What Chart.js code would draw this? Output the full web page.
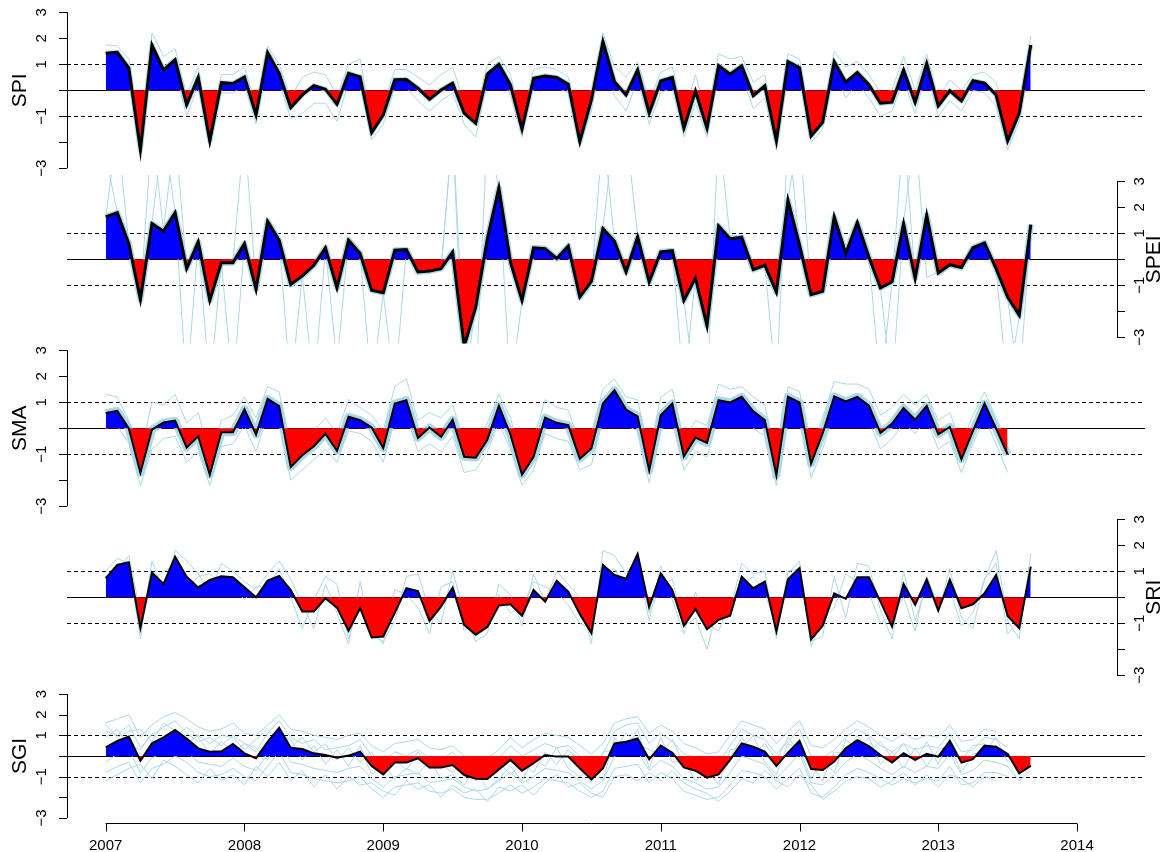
<!DOCTYPE html>
<html>
<head>
<meta charset="utf-8">
<script src="https://cdn.jsdelivr.net/npm/chart.js@4.4.0/dist/chart.umd.min.js"></script>
<style>
  html, body { margin: 0; padding: 0; background: #fff; }
  #wrap { position: relative; width: 1167px; height: 852px; }
  #wrap canvas { position: absolute; left: 0; top: 0; }
</style>
</head>
<body>
<div id="wrap">
  <canvas id="spi" width="1167" height="852"></canvas>
  <canvas id="spei" width="1167" height="852"></canvas>
  <canvas id="sma" width="1167" height="852"></canvas>
  <canvas id="sri" width="1167" height="852"></canvas>
  <canvas id="sgi" width="1167" height="852"></canvas>
</div>
<script>
// Monthly series, Jan 2007 onwards
const startYear = 2007;
const yearTicks = [2007, 2008, 2009, 2010, 2011, 2012, 2013, 2014];
const indexTicks = [-3, -2, -1, 0, 1, 2, 3];
const labelledTicks = [3, 2, 1, -1, -3];

const spiValues = [
    1.42, 1.46, 0.85, -2.30, 1.74, 0.78, 1.17, -0.56, 0.50, -1.95,
    0.29, 0.26, 0.51, -0.95, 1.45, 0.65, -0.67, -0.18, 0.18, 0.04,
    -0.54, 0.65, 0.51, -1.63, -0.95, 0.40, 0.41, 0.08, -0.35, 0.01,
    0.27, -0.88, -1.27, 0.62, 1.00, 0.21, -1.50, 0.46, 0.55, 0.49,
    0.23, -1.97, -0.37, 1.87, 0.33, -0.18, 0.78, -0.88, 0.36, 0.49,
    -1.46, -0.03, -1.46, 0.95, 0.62, 0.94, -0.21, 0.17, -1.95, 1.10,
    0.87, -1.76, -1.23, 1.10, 0.31, 0.68, 0.21, -0.50, -0.46, 0.78,
    -0.47, 1.03, -0.60, -0.02, -0.41, 0.37, 0.27, -0.18, -1.95, -0.88,
    1.74
];
const spiUpper = [
    1.75, 1.7, 1.2, -1.9, 2.2, 1.3, 1.6, -0.2, 0.9, -1.6,
    0.6, 0.6, 0.9, -0.6, 1.7, 1.0, -0.3, 0.5, 0.7, 0.6,
    -0.2, 1.0, 1.2, -1.3, -0.6, 0.8, 0.8, 0.5, 0.2, 0.6,
    0.9, -0.5, -0.9, 1.0, 1.3, 0.6, -1.1, 0.8, 0.9, 0.8,
    0.5, -1.6, 0.0, 2.2, 0.9, 0.5, 1.1, -0.4, 0.7, 0.9,
    -1.0, 0.6, -1.0, 1.4, 1.2, 1.3, 0.3, 0.6, -1.6, 1.4,
    1.2, -1.4, -0.9, 1.5, 0.9, 1.1, 0.6, -0.1, 0.0, 1.3,
    0.0, 1.4, -0.3, 0.4, 0.0, 0.6, 0.7, 0.3, -1.6, -0.5,
    2.1
];
const spiLower = [
    1.2, 1.2, 0.5, -2.5, 1.4, 0.5, 0.8, -1.0, 0.2, -2.2,
    -0.1, -0.1, 0.2, -1.3, 1.1, 0.3, -1.1, -0.9, -0.5, -0.5,
    -1.2, 0.3, 0.2, -1.9, -1.3, 0.1, 0.1, -0.4, -0.8, -0.4,
    -0.1, -1.3, -1.8, 0.3, 0.7, -0.2, -1.8, 0.1, 0.2, 0.1,
    -0.1, -2.2, -0.8, 1.5, -0.2, -0.8, 0.4, -1.3, -0.1, 0.1,
    -1.8, -0.5, -1.8, 0.6, 0.3, 0.6, -0.7, -0.3, -2.3, 0.8,
    0.5, -2.0, -1.5, 0.8, -0.3, 0.3, -0.3, -1.0, -0.8, 0.4,
    -0.9, 0.7, -1.0, -0.4, -0.8, 0.0, -0.1, -0.6, -2.3, -1.2,
    1.5
];

const speiValues = [
    1.63, 1.79, 0.60, -1.55, 1.37, 1.08, 1.79, -0.36, 0.67, -1.58,
    -0.13, -0.13, 0.60, -1.15, 1.46, 0.73, -0.97, -0.64, -0.23, 0.44,
    -1.10, 0.73, 0.22, -1.19, -1.29, 0.35, 0.37, -0.49, -0.45, -0.36,
    0.28, -3.35, -1.83, 0.79, 2.74, -0.10, -1.58, 0.44, 0.41, 0.03,
    0.51, -1.45, -0.85, 1.18, 0.69, -0.49, 0.86, -0.87, 0.28, 0.33,
    -1.58, -0.72, -2.56, 1.28, 0.79, 0.85, -0.40, -0.23, -1.26, 2.27,
    0.55, -1.36, -1.23, 1.63, 0.22, 1.41, 0.09, -1.10, -0.87, 1.37,
    -0.74, 1.69, -0.53, -0.21, -0.32, 0.44, 0.63, -0.36, -1.45, -2.15,
    1.33
];
const speiMember1 = [
    4.0, 1.8, 0.6, -1.5, 1.4, 5.0, 1.8, -5.0, 0.7, -1.6,
    -0.1, -0.1, 5.0, -1.1, 1.5, 0.7, -5.0, -0.6, -0.2, 0.4,
    -1.1, 0.7, 0.2, -5.0, -1.3, 0.3, 0.4, -0.5, -0.5, -0.4,
    5.0, -5.0, -1.8, 0.8, 2.8, -0.1, -1.6, 0.4, 0.4, 0.0,
    0.5, -1.5, -0.9, 5.0, 0.7, -0.5, 0.9, -0.9, 0.3, 0.3,
    -5.0, -0.7, -2.6, 1.3, 0.8, 0.9, -0.4, -0.2, -5.0, 5.0,
    0.5, -1.4, -1.2, 1.6, 0.2, 1.4, 0.1, -5.0, -0.9, 5.0,
    -0.7, 1.7, -0.5, -0.2, -0.3, 0.4, 0.6, -0.4, -1.5, -5.0,
    1.3
];
const speiMember2 = [
    1.6, 5.0, 0.6, -1.5, 5.0, 1.1, 5.0, -0.4, 0.7, -5.0,
    -0.1, -5.0, 0.6, -1.1, 1.5, 0.7, -1.0, -0.6, -5.0, 0.4,
    -4.0, 0.7, 0.2, -1.2, -1.3, -5.0, 0.4, -0.5, -0.5, -0.4,
    5.0, -3.4, -5.0, 5.0, 2.7, -5.0, -1.6, 0.4, 0.4, 0.0,
    0.5, -1.5, -0.9, 1.2, 5.0, 5.0, 0.9, -0.9, 0.3, 0.3,
    -1.6, -5.0, -5.0, 5.0, 0.8, 0.9, -0.4, -0.2, -1.3, 2.3,
    5.0, -1.4, -1.2, 1.6, 0.2, 1.4, 0.1, -1.1, -5.0, 1.4,
    5.0, -0.7, -0.5, -0.2, -0.3, 0.4, 0.6, -0.4, -5.0, -2.2,
    1.3
];

const smaValues = [
    0.59, 0.67, -0.01, -1.71, -0.05, 0.22, 0.29, -0.74, -0.31, -1.78,
    -0.15, -0.15, 0.73, -0.24, 1.13, 0.85, -1.49, -1.04, -0.69, -0.21,
    -0.87, 0.44, 0.31, 0.03, -0.76, 0.95, 1.08, -0.37, 0.03, -0.33,
    0.33, -1.10, -1.13, -0.44, 0.86, -0.24, -1.78, -1.10, 0.41, 0.21,
    0.12, -1.17, -0.78, 0.95, 1.46, 0.72, 0.46, -1.62, 0.50, 0.95,
    -1.08, -0.36, -0.56, 1.08, 0.99, 1.21, 0.65, 0.31, -1.81, 1.21,
    0.99, -1.36, -0.20, 1.23, 1.03, 1.21, 0.87, -0.18, 0.18, 0.78,
    0.33, 0.86, -0.23, 0.05, -1.19, -0.10, 0.95, -0.01, -1.01, null,
    null
];
const smaUpper = [
    1.3, 1.2, 0.3, -1.0, 1.0, 0.9, 1.3, 0.2, 0.6, -1.1,
    0.3, 0.5, 1.2, 0.4, 1.6, 1.4, -0.9, -0.5, -0.1, 0.4,
    -0.2, 1.1, 0.8, 0.5, -0.1, 1.6, 1.9, 0.3, 0.6, 0.4,
    0.9, -0.5, -0.6, 0.2, 1.3, 0.4, -1.2, -0.4, 1.1, 0.8,
    0.7, -0.6, -0.2, 1.5, 1.9, 1.2, 1.1, -1.0, 1.2, 1.5,
    -0.5, 0.3, 0.1, 1.7, 1.5, 1.6, 1.2, 0.9, -1.3, 1.6,
    1.4, -0.8, 0.4, 1.8, 1.7, 1.7, 1.5, 0.5, 0.8, 1.3,
    0.9, 1.3, 0.3, 0.6, -0.6, 0.5, 1.4, 0.4, -0.6, null,
    null
];
const smaLower = [
    0.0, 0.1, -0.6, -2.2, -0.8, -0.4, -0.3, -1.3, -0.9, -2.2,
    -0.7, -0.6, 0.1, -0.9, 0.5, 0.3, -2.0, -1.6, -1.2, -0.8,
    -1.3, -0.1, -0.2, -0.5, -1.3, 0.3, 0.5, -0.9, -0.6, -0.9,
    -0.3, -1.7, -1.6, -0.9, 0.2, -0.8, -2.2, -1.6, -0.2, -0.4,
    -0.5, -1.6, -1.4, 0.3, 0.9, 0.1, -0.1, -2.1, -0.1, 0.4,
    -1.6, -0.9, -1.1, 0.5, 0.4, 0.6, 0.0, -0.3, -2.2, 0.6,
    0.4, -1.9, -0.8, 0.6, 0.4, 0.6, 0.3, -0.8, -0.4, 0.2,
    -0.2, 0.3, -0.8, -0.5, -1.7, -0.6, 0.4, -0.6, -1.7, null,
    null
];

const sriValues = [
    0.73, 1.24, 1.35, -1.19, 0.95, 0.51, 1.56, 0.79, 0.38, 0.67,
    0.81, 0.77, 0.38, 0.00, 0.64, 0.82, 0.28, -0.55, -0.55, -0.04,
    -0.40, -1.29, -0.42, -1.55, -1.51, -0.60, 0.35, 0.24, -0.91, -0.36,
    0.37, -1.06, -1.44, -1.15, -0.32, -0.27, -0.71, 0.28, -0.17, 0.63,
    0.22, -0.64, -1.38, 1.24, 0.86, 0.71, 1.67, -0.38, 0.92, 0.28,
    -1.10, -0.46, -1.23, -0.87, -0.71, 0.79, 0.35, 0.60, -1.32, 0.69,
    1.12, -1.62, -1.10, 0.15, -0.06, 0.77, 0.77, -0.17, -1.13, 0.51,
    -0.29, 0.69, -0.51, 0.67, -0.42, -0.27, 0.15, 0.86, -0.72, -1.19,
    1.18
];
const sriMember1 = [
    1.0, 1.5, 1.3, -1.6, 1.4, 0.2, 1.8, 1.4, 0.9, 0.2,
    1.3, 1.0, 0.6, 0.3, 0.9, 1.4, 0.7, -0.3, -1.2, 0.5,
    -0.6, -1.8, 0.6, -1.5, -1.7, -0.9, 0.8, 0.9, -0.5, -1.0,
    1.0, -0.6, -1.7, -1.4, 0.5, 0.1, -1.1, 0.9, -0.2, 1.0,
    0.5, 0.0, -1.8, 1.8, 1.6, 0.9, 1.5, -0.6, 0.4, 0.7,
    -1.1, -0.8, -2.0, -0.2, -0.5, 1.3, 0.9, 1.0, -1.6, 1.0,
    1.1, -1.7, -1.5, 0.8, -0.8, 1.3, 1.2, -0.5, -1.6, 1.0,
    -0.9, 0.5, -0.6, 1.1, -0.8, -1.2, 0.7, 1.8, -0.9, -1.6,
    1.7
];
const sriMember2 = [
    0.4, 1.0, 1.6, -0.6, 0.6, 1.0, 1.2, 0.3, 0.8, 0.9,
    0.5, 0.4, -0.1, 0.4, 0.4, 1.1, 0.0, -1.2, -0.1, 0.8,
    0.5, -1.6, -0.2, -1.2, -1.8, 0.3, 0.1, -0.4, -1.4, 0.4,
    0.6, -1.3, -0.9, -1.0, 0.1, -0.6, -0.4, 0.6, 0.4, 0.2,
    -0.3, -1.0, -1.2, 0.9, 1.1, 0.3, 1.3, -0.9, 1.2, -0.1,
    -1.4, 0.2, -1.0, -1.3, -0.2, 0.5, 0.8, 0.2, -1.2, 0.9,
    1.4, -1.9, -0.8, -0.4, 0.9, 0.6, 0.2, -1.0, -0.7, 0.0,
    -1.3, 0.8, -0.3, 0.3, -1.1, -0.6, 0.7, 1.3, -1.4, -0.9,
    0.9
];

const sgiValues = [
    0.42, 0.73, 0.94, -0.23, 0.61, 0.90, 1.26, 0.85, 0.37, 0.21,
    0.23, 0.58, 0.13, -0.11, 0.69, 1.37, 0.40, 0.34, 0.13, 0.05,
    -0.08, 0.02, 0.21, -0.48, -0.89, -0.32, -0.31, -0.11, -0.56, -0.56,
    -0.44, -0.92, -1.10, -1.11, -0.65, -0.19, -0.71, -0.35, 0.05, -0.03,
    -0.03, -0.60, -1.13, -0.60, 0.61, 0.69, 0.85, -0.16, 0.50, 0.16,
    -0.55, -0.71, -1.05, -0.89, -0.19, 0.61, 0.45, 0.21, -0.48, 0.16,
    0.73, -0.63, -0.68, -0.27, 0.37, 0.77, 0.48, 0.05, -0.31, 0.13,
    -0.19, 0.10, -0.03, 0.73, -0.32, -0.15, 0.50, 0.45, 0.10, -0.84,
    -0.48
];
const sgiMember1 = [
    1.6, 1.8, 2.0, 0.9, 1.5, 1.9, 2.1, 1.8, 1.4, 1.2,
    1.3, 1.6, 1.1, 1.0, 1.5, 2.0, 1.3, 1.2, 1.0, 0.9,
    0.8, 1.0, 1.1, 0.5, 0.2, 0.6, 0.7, 0.8, 0.4, 0.3,
    0.5, 0.0, -0.2, -0.1, 0.3, 0.9, 0.4, 0.8, 1.1, 1.0,
    0.9, 0.5, 0.1, 0.6, 1.6, 1.8, 1.9, 1.1, 1.5, 1.2,
    0.6, 0.4, 0.1, 0.2, 1.0, 1.7, 1.5, 1.3, 0.6, 1.2,
    1.7, 0.5, 0.4, 0.8, 1.3, 1.7, 1.4, 1.0, 0.7, 1.1,
    0.8, 1.0, 0.9, 1.5, 0.7, 0.8, 1.3, 1.2, null, null,
    null
];
const sgiMember2 = [
    -0.8, -0.5, -0.3, -1.3, -0.6, -0.4, 0.0, -0.3, -0.8, -1.0,
    -0.9, -0.6, -1.0, -1.2, -0.5, 0.2, -0.8, -0.9, -1.1, -1.2,
    -1.3, -1.2, -1.0, -1.6, -2.0, -1.5, -1.4, -1.3, -1.7, -1.8,
    -1.6, -2.0, -2.1, -2.1, -1.8, -1.4, -1.8, -1.5, -1.1, -1.2,
    -1.3, -1.7, -2.0, -1.7, -0.6, -0.5, -0.4, -1.3, -0.8, -1.1,
    -1.7, -1.9, -2.1, -2.0, -1.4, -0.7, -0.8, -1.0, -1.6, -1.1,
    -0.6, -1.8, -2.0, -1.5, -0.9, -0.6, -0.8, -1.1, -1.4, -1.1,
    -1.3, -1.1, -1.2, -0.5, -1.4, -1.3, -0.8, -0.8, -1.0, null,
    null
];
const sgiMember3 = [
    1.2, 1.0, 1.5, 0.4, 1.0, 1.4, 1.7, 1.1, 0.7, 0.9,
    0.5, 1.0, 0.6, 0.2, 1.1, 1.7, 0.9, 0.6, 0.8, 0.3,
    0.4, 0.5, 0.8, 0.0, -0.3, 0.2, 0.0, 0.3, -0.1, -0.2,
    0.2, -0.4, -0.6, -0.5, -0.1, 0.5, 0.0, 0.3, 0.6, 0.4,
    0.5, 0.0, -0.5, 0.1, 1.2, 1.5, 1.6, 0.6, 1.1, 0.7,
    0.1, -0.1, -0.5, -0.3, 0.5, 1.3, 1.0, 0.8, 0.1, 0.7,
    1.3, 0.0, -0.1, 0.3, 0.9, 1.3, 1.0, 0.5, 0.2, 0.6,
    0.3, 0.5, 0.4, 1.1, 0.2, 0.3, 0.9, 0.8, 0.4, null,
    null
];
const sgiMember4 = [
    -0.3, 0.1, 0.3, -0.8, -0.1, 0.2, 0.6, 0.2, -0.3, -0.4,
    -0.5, -0.1, -0.5, -0.7, 0.1, 0.8, -0.3, -0.4, -0.6, -0.7,
    -0.8, -0.6, -0.5, -1.1, -1.5, -1.0, -0.9, -0.8, -1.3, -1.2,
    -1.1, -1.5, -1.7, -1.6, -1.2, -0.8, -1.3, -1.0, -0.6, -0.7,
    -0.8, -1.2, -1.6, -1.2, 0.0, 0.1, 0.2, -0.7, -0.2, -0.5,
    -1.1, -1.3, -1.6, -1.5, -0.8, 0.0, -0.2, -0.4, -1.1, -0.5,
    0.1, -1.3, -1.4, -0.9, -0.3, 0.1, -0.2, -0.6, -0.9, -0.5,
    -0.8, -0.5, -0.6, 0.1, -0.9, -0.7, -0.2, -0.3, -0.5, -1.2,
    -0.7
];
const sgiMember5 = [
    0.9, 1.3, 0.5, 0.3, 1.1, 0.6, 0.9, 1.4, 0.9, 0.1,
    0.7, 0.2, 0.6, 0.4, -0.2, 1.0, 0.8, -0.2, 0.5, -0.4,
    0.3, -0.5, 0.5, -0.9, -0.4, -1.1, -0.6, -0.9, -0.2, -1.1,
    -0.9, -1.4, -0.6, -1.6, -1.1, -0.5, -1.2, -0.1, -0.5, 0.4,
    -0.6, -1.0, -0.6, -1.2, 0.9, 0.2, 1.3, -0.6, 0.9, -0.3,
    -0.2, -1.2, -0.7, -1.4, 0.3, 0.4, 1.0, -0.3, -0.9, 0.6,
    0.3, -1.1, -0.2, -0.8, 0.8, 0.3, 0.9, -0.4, 0.2, -0.6,
    0.4, -0.5, 0.3, 0.5, -0.8, 0.1, 0.2, 0.9, -0.3, null,
    null
];
const sgiMember6 = [
    1.5, 0.9, 1.2, 1.3, 0.7, 1.6, 1.2, 0.6, 1.0, 0.6,
    1.0, 0.9, 0.3, 0.8, 1.3, 0.7, 0.4, 0.9, 0.2, 0.6,
    -0.2, 0.4, -0.3, 0.2, -0.8, -0.1, -0.7, 0.2, -0.6, -0.4,
    -0.8, -0.3, -1.2, -0.8, -0.3, -0.9, -0.3, -0.8, 0.2, -0.4,
    0.3, -0.3, -1.3, 0.2, 0.3, 1.1, 0.6, 0.3, 0.1, 0.8,
    -0.4, -0.1, -1.1, -0.6, -0.1, 0.9, 0.1, 0.6, -0.2, 0.9,
    0.2, -0.4, -1.2, 0.2, 0.1, 1.0, 0.2, 0.7, -0.1, 0.6,
    -0.3, 0.7, -0.4, 0.8, -0.2, 0.5, 0.6, null, null, null,
    null
];
const sgiMember7 = [
    -1.2, -0.9, -0.6, -0.4, -1.1, -0.2, -0.5, -0.9, -1.3, -0.6,
    -1.2, -0.9, -1.4, -0.5, -1.0, -0.3, -1.2, -0.7, -1.5, -0.9,
    -1.6, -1.0, -1.4, -1.3, -1.7, -1.9, -1.2, -1.6, -1.4, -2.0,
    -1.4, -1.8, -1.6, -2.2, -1.5, -1.7, -1.4, -1.9, -1.3, -0.9,
    -1.5, -1.3, -1.8, -2.0, -1.0, -0.9, -1.2, -0.8, -1.2, -0.7,
    -1.3, -1.6, -1.8, -2.2, -1.7, -1.1, -1.3, -0.7, -1.2, -1.5,
    -0.9, -1.4, -2.1, -1.7, -1.2, -1.0, -1.1, -1.5, -1.2, -0.8,
    -1.4, -0.9, -1.5, -0.9, -1.1, -1.5, -1.0, -1.2, null, null,
    null
];

const LIGHT = "rgb(173,216,230)";
const FONT = "'Liberation Sans', Arial, Helvetica, sans-serif";

// one panel per index, stacked like the R layout
const panels = [
    { id: "spi", name: "SPI", side: "left", top: 6, bottom: 174.5, lineWidth: 3, halo: 5, values: spiValues,
      members: [spiUpper, spiLower] },
    { id: "spei", name: "SPEI", side: "right", top: 175, bottom: 343.5, lineWidth: 3, halo: 6, values: speiValues,
      members: [speiMember1, speiMember2] },
    { id: "sma", name: "SMA", side: "left", top: 344, bottom: 512.5, lineWidth: 2, halo: 8, values: smaValues,
      members: [smaUpper, smaLower] },
    { id: "sri", name: "SRI", side: "right", top: 513, bottom: 681.5, lineWidth: 2, halo: 0, values: sriValues,
      members: [sriMember1, sriMember2] },
    { id: "sgi", name: "SGI", side: "left", top: 689, bottom: 823, lineWidth: 2, halo: 0, values: sgiValues,
      members: [sgiMember1, sgiMember2, sgiMember3, sgiMember4, sgiMember5, sgiMember6, sgiMember7], xAxis: true }
];

function toPoints(arr) {
    return arr.map((v, i) => ({ x: startYear + i / 12, y: v }));
}

function fmt(v) {
    return v < 0 ? "\u2212" + Math.abs(v) : String(v);
}

// dashed +-1 lines and the zero line
const refLines = {
    id: "refLines",
    beforeDatasetsDraw(chart, args, opts) {
        const { ctx, chartArea: a, scales: { y } } = chart;
        const x0 = a.left;
        const x1 = opts.extendRight ? 1145 : a.right;
        ctx.save();
        ctx.strokeStyle = "#000";
        ctx.lineWidth = 1;
        ctx.setLineDash([4, 3]);
        [1, -1].forEach(v => {
            const py = Math.round(y.getPixelForValue(v)) + 0.5;
            ctx.beginPath();
            ctx.moveTo(x0, py);
            ctx.lineTo(x1, py);
            ctx.stroke();
        });
        ctx.setLineDash([]);
        const pz = Math.round(y.getPixelForValue(0)) + 0.5;
        ctx.beginPath();
        ctx.moveTo(x0, pz);
        ctx.lineTo(x1, pz);
        ctx.stroke();
        ctx.restore();
    }
};

// R-style axes: line only between first and last tick, rotated labels
const rAxes = {
    id: "rAxes",
    afterDraw(chart, args, opts) {
        const { ctx, chartArea: a, scales: { x, y } } = chart;
        const left = opts.side === "left";
        const ax = left ? a.left : a.right;
        const dir = left ? -1 : 1;
        ctx.save();
        ctx.strokeStyle = "#000";
        ctx.lineWidth = 1;
        ctx.beginPath();
        ctx.moveTo(ax + 0.5, y.getPixelForValue(3));
        ctx.lineTo(ax + 0.5, y.getPixelForValue(-3));
        indexTicks.forEach(v => {
            const py = Math.round(y.getPixelForValue(v)) + 0.5;
            ctx.moveTo(ax, py);
            ctx.lineTo(ax + dir * 8, py);
        });
        ctx.stroke();

        ctx.fillStyle = "#000";
        ctx.textAlign = "center";
        ctx.textBaseline = "middle";
        ctx.font = "15px " + FONT;
        labelledTicks.forEach(v => {
            ctx.save();
            ctx.translate(ax + dir * (left ? 25 : 23), y.getPixelForValue(v));
            ctx.rotate(-Math.PI / 2);
            ctx.fillText(fmt(v), 0, 0);
            ctx.restore();
        });

        ctx.font = "21px " + FONT;
        ctx.save();
        ctx.translate(ax + dir * (left ? 47 : 37), y.getPixelForValue(0));
        ctx.rotate(-Math.PI / 2);
        ctx.fillText(opts.name, 0, 0);
        ctx.restore();

        if (opts.xAxis) {
            const by = Math.round(a.bottom) + 0.5;
            ctx.beginPath();
            ctx.moveTo(x.getPixelForValue(yearTicks[0]), by);
            ctx.lineTo(x.getPixelForValue(yearTicks[yearTicks.length - 1]), by);
            yearTicks.forEach(t => {
                const px = Math.round(x.getPixelForValue(t)) + 0.5;
                ctx.moveTo(px, by);
                ctx.lineTo(px, by + 8);
            });
            ctx.stroke();
            ctx.font = "15px " + FONT;
            ctx.textBaseline = "alphabetic";
            yearTicks.forEach(t => {
                ctx.fillText(String(t), x.getPixelForValue(t), by + 26);
            });
        }
        ctx.restore();
    }
};

function initPanel(p) {
    const datasets = [{
        data: toPoints(p.values),
        borderColor: "#000",
        borderWidth: p.lineWidth,
        fill: { target: { value: 0 }, above: "rgb(0,0,255)", below: "rgb(255,0,0)" },
        order: 0
    }];
    p.members.forEach(m => {
        datasets.push({ data: toPoints(m), borderColor: LIGHT, borderWidth: 1, fill: false, order: 1 });
    });
    if (p.halo > 0) {
        datasets.push({ data: toPoints(p.values), borderColor: LIGHT, borderWidth: p.halo, borderJoinStyle: "round", fill: false, order: 2 });
    }

    new Chart(document.getElementById(p.id), {
        type: "line",
        data: { datasets: datasets },
        options: {
            responsive: false,
            animation: false,
            events: [],
            layout: { padding: { left: 67, right: 1167 - 1117, top: p.top, bottom: 852 - p.bottom } },
            elements: { point: { radius: 0 }, line: { tension: 0 } },
            scales: {
                x: { type: "linear", min: 2006.721, max: 2014.288, display: false },
                y: { type: "linear", min: -3.24, max: 3.24, display: false }
            },
            plugins: {
                legend: { display: false },
                tooltip: { enabled: false },
                refLines: { extendRight: p.side === "left" },
                rAxes: { side: p.side, name: p.name, xAxis: !!p.xAxis }
            }
        },
        plugins: [refLines, rAxes]
    });
}

document.addEventListener("DOMContentLoaded", () => {
    panels.forEach(initPanel);
});
</script>
</body>
</html>
